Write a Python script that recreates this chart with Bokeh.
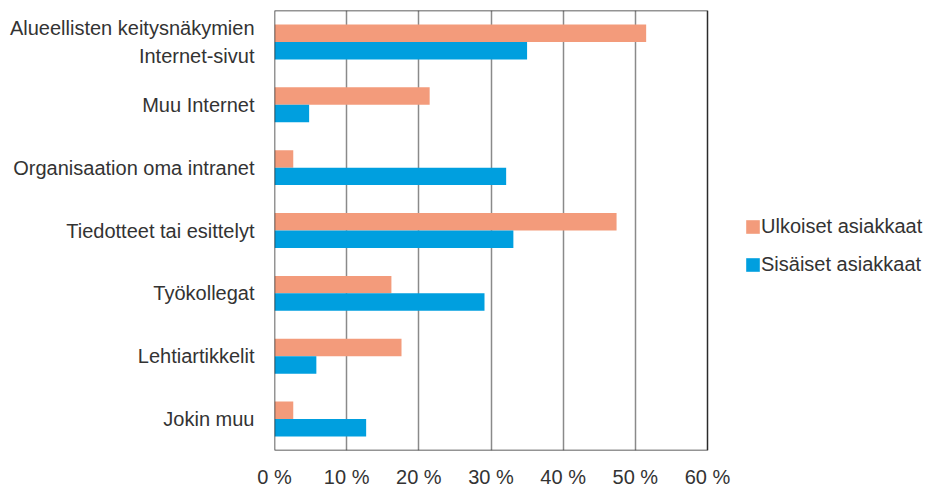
from bokeh.plotting import figure
from bokeh.models import (ColumnDataSource, FactorRange, Range1d, FixedTicker,
                          Legend, LegendItem, BoxAnnotation)
from bokeh.transform import dodge
from bokeh.embed import file_html
from bokeh.resources import INLINE

categories = [
    "Alueellisten keitysnäkymien\nInternet-sivut",
    "Muu Internet",
    "Organisaation oma intranet",
    "Tiedotteet tai esittelyt",
    "Työkollegat",
    "Lehtiartikkelit",
    "Jokin muu",
]
ulkoiset = [51.5, 21.5, 2.6, 47.4, 16.2, 17.6, 2.6]
sisaiset = [35.0, 4.8, 32.1, 33.1, 29.1, 5.8, 12.7]
series_names = ["Ulkoiset asiakkaat", "Sisäiset asiakkaat"]
tick_values = [0, 10, 20, 30, 40, 50, 60]
tick_labels = ["0 %", "10 %", "20 %", "30 %", "40 %", "50 %", "60 %"]

ORANGE = "#F39B7B"
BLUE = "#009FDF"
TEXT = "#333333"
FONT = "Liberation Sans"

W, H = 926, 490
AX_LEFT, AX_RIGHT = 274, 707      # pixel span of the 0..60 % axis box
x_max = tick_values[-1]
x_end = x_max * (W - AX_LEFT) / (AX_RIGHT - AX_LEFT)

source = ColumnDataSource(dict(cat=categories, ulk=ulkoiset, sis=sisaiset))

p = figure(
    width=W, height=H,
    y_range=FactorRange(factors=list(reversed(categories)), range_padding=0),
    x_range=Range1d(0, x_end),
    output_backend="svg", toolbar_location=None,
    min_border_left=AX_LEFT, min_border_right=0,
    min_border_top=10, min_border_bottom=38,
)

r1 = p.hbar(y=dodge("cat", 0.139, range=p.y_range), right="ulk", left=0,
            height=0.278, source=source, fill_color=ORANGE, line_color=None)
r2 = p.hbar(y=dodge("cat", -0.139, range=p.y_range), right="sis", left=0,
            height=0.278, source=source, fill_color=BLUE, line_color=None)

# grid
p.ygrid.grid_line_color = None
p.xgrid.ticker = FixedTicker(ticks=tick_values[1:-1])
p.xgrid.grid_line_color = "#8a8a8a"
p.xgrid.grid_line_width = 1.5

p.outline_line_color = None
p.background_fill_color = "white"
p.border_fill_color = "white"

box = BoxAnnotation(left=0, right=x_max, fill_alpha=0, fill_color=None,
                    line_color="#2b2b2b", line_alpha=1.0, line_width=1.5,
                    level="overlay")
p.add_layout(box)

# x axis
p.xaxis.ticker = FixedTicker(ticks=tick_values)
p.xaxis.major_label_overrides = {v: l for v, l in zip(tick_values, tick_labels)}
p.xaxis.axis_line_color = None
p.xaxis.major_tick_line_color = None
p.xaxis.minor_tick_line_color = None
p.xaxis.major_label_standoff = 9
p.xaxis.major_label_text_font = FONT
p.xaxis.major_label_text_font_size = "20px"
p.xaxis.major_label_text_color = TEXT

# y axis
p.yaxis.axis_line_color = None
p.yaxis.major_tick_line_color = None
p.yaxis.minor_tick_line_color = None
p.yaxis.major_label_standoff = 14
p.yaxis.major_label_text_font = FONT
p.yaxis.major_label_text_font_size = "20px"
p.yaxis.major_label_text_color = TEXT
p.yaxis.major_label_text_line_height = 1.28

legend = Legend(
    items=[LegendItem(label=series_names[0], renderers=[r1]),
           LegendItem(label=series_names[1], renderers=[r2])],
    location=(470, 174),
    orientation="vertical",
    border_line_color=None,
    background_fill_alpha=0,
    padding=0, margin=0,
    glyph_width=17, glyph_height=17,
    label_height=23, spacing=15, label_standoff=0,
    label_text_font=FONT, label_text_font_size="20px",
    label_text_color=TEXT,
)
p.add_layout(legend, "center")

open("out.html", "w").write(file_html(p, INLINE))
